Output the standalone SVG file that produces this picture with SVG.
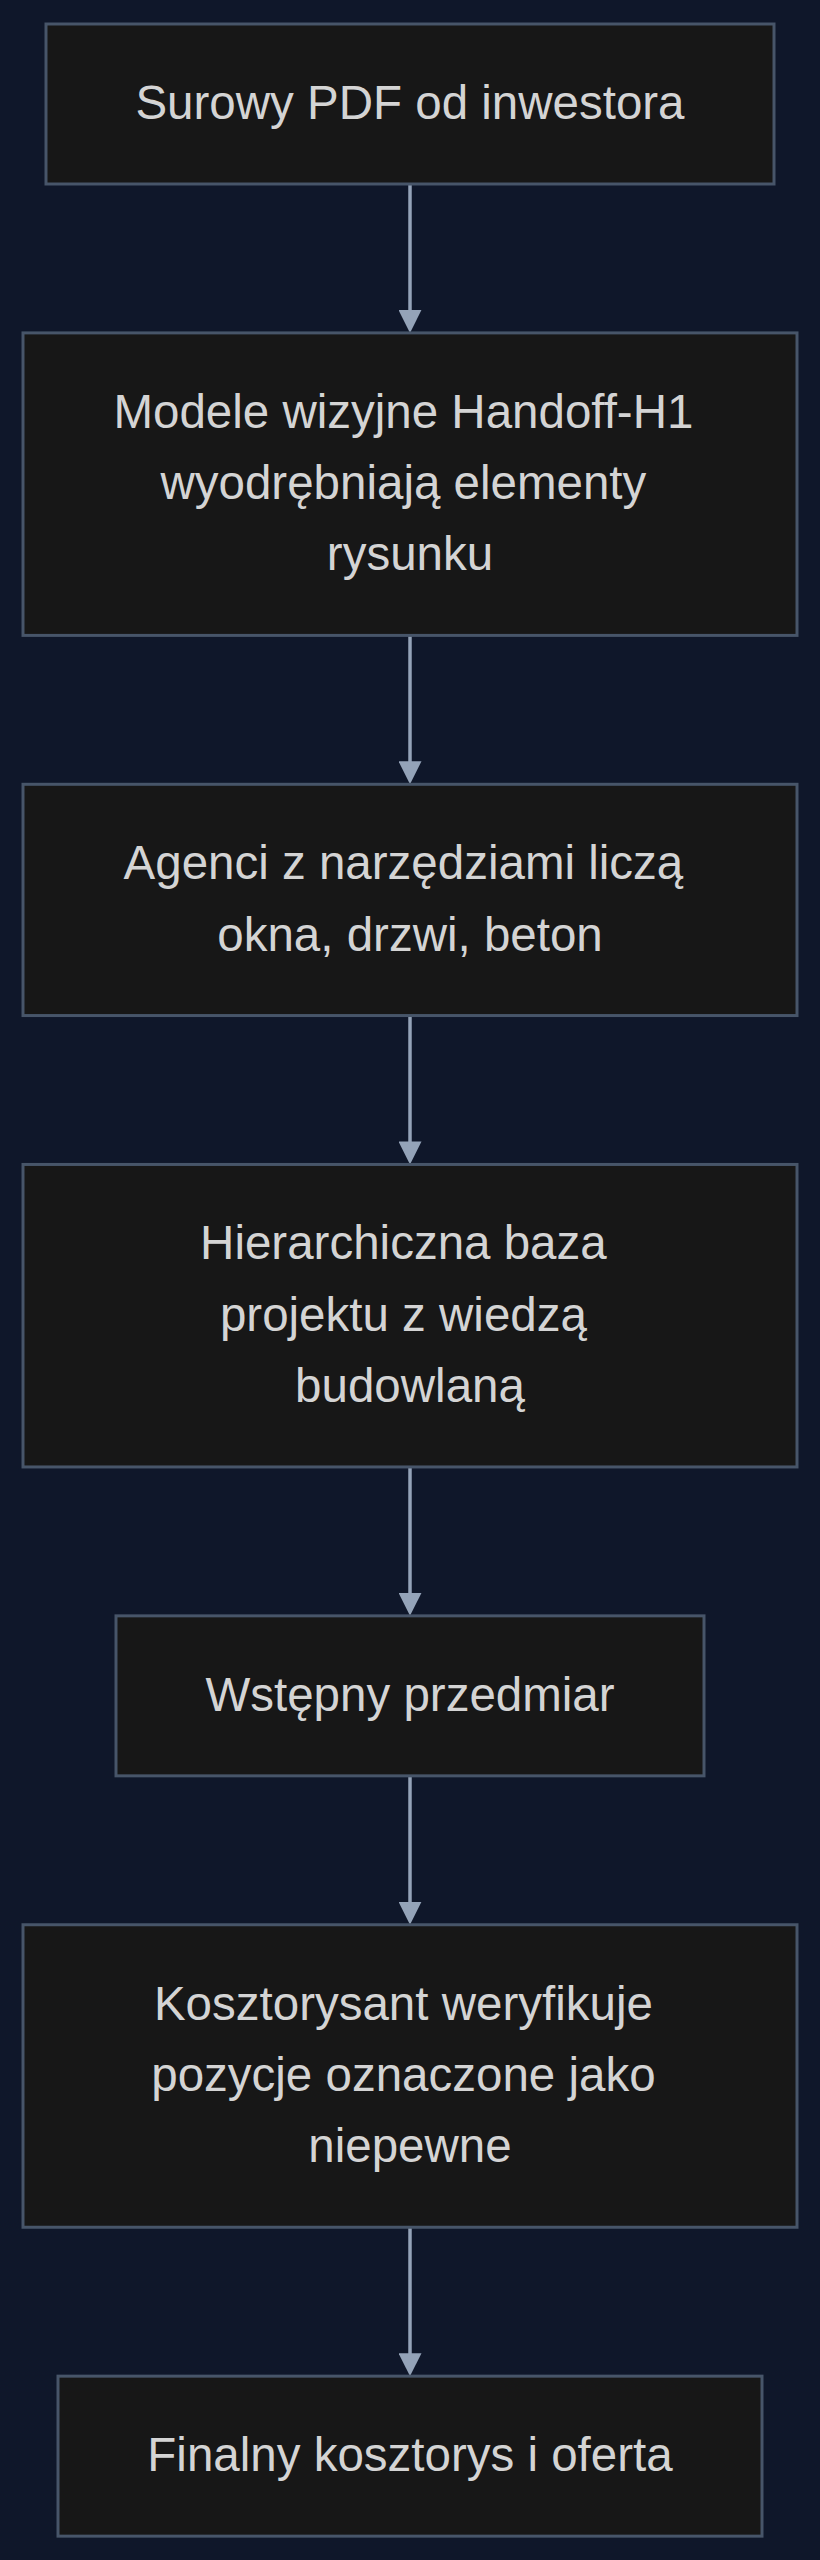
<svg xmlns="http://www.w3.org/2000/svg" width="820" height="2560" viewBox="0 0 820 2560">
<style>
.bg{fill:#0f172a}
.node rect{fill:#171717;stroke:#475569;stroke-width:3}
.node text{font-family:"Liberation Sans",Arial,sans-serif;font-size:47.5px;fill:#d4d4d4;text-anchor:middle}
.edge path{stroke:#94a3b8;stroke-width:3.5;fill:none;marker-end:url(#arr)}
</style>
<defs>
<marker id="arr" markerUnits="userSpaceOnUse" viewBox="0 0 23 23" refX="3" refY="11.5" markerWidth="23" markerHeight="23" orient="auto">
<path d="M0,0 L23,11.5 L0,23 z" fill="#94a3b8" stroke="none"/>
</marker>
</defs>
<rect class="bg" x="0" y="0" width="820" height="2560"/>
<g id="connectors" class="edge">
<path d="M410,184 V312.9"/>
<path d="M410,635.4 V764.3"/>
<path d="M410,1015.55 V1144.45"/>
<path d="M410,1466.95 V1595.85"/>
<path d="M410,1775.85 V1904.75"/>
<path d="M410,2227.25 V2356.15"/>
</g>
<g id="n1" class="node">
<rect x="46" y="24" width="728" height="160"/>
<text x="410" y="119">Surowy PDF od inwestora</text>
</g>
<g id="n2" class="node">
<rect x="23" y="332.9" width="774" height="302.5"/>
<text x="403.4" y="427.9">Modele wizyjne Handoff-H1</text>
<text x="403.4" y="499.15">wyodrębniają elementy</text>
<text x="410" y="570.4">rysunku</text>
</g>
<g id="n3" class="node">
<rect x="23" y="784.3" width="774" height="231.25"/>
<text x="403.4" y="879.3">Agenci z narzędziami liczą</text>
<text x="410" y="950.5">okna, drzwi, beton</text>
</g>
<g id="n4" class="node">
<rect x="23" y="1164.45" width="774" height="302.5"/>
<text x="403.4" y="1259.45">Hierarchiczna baza</text>
<text x="403.4" y="1330.7">projektu z wiedzą</text>
<text x="410" y="1401.95">budowlaną</text>
</g>
<g id="n5" class="node">
<rect x="116" y="1615.85" width="588" height="160"/>
<text x="410" y="1710.85">Wstępny przedmiar</text>
</g>
<g id="n6" class="node">
<rect x="23" y="1924.75" width="774" height="302.5"/>
<text x="403.4" y="2019.75">Kosztorysant weryfikuje</text>
<text x="403.4" y="2091">pozycje oznaczone jako</text>
<text x="410" y="2162.25">niepewne</text>
</g>
<g id="n7" class="node">
<rect x="58" y="2376.15" width="704" height="160"/>
<text x="410" y="2471.15">Finalny kosztorys i oferta</text>
</g>
</svg>
